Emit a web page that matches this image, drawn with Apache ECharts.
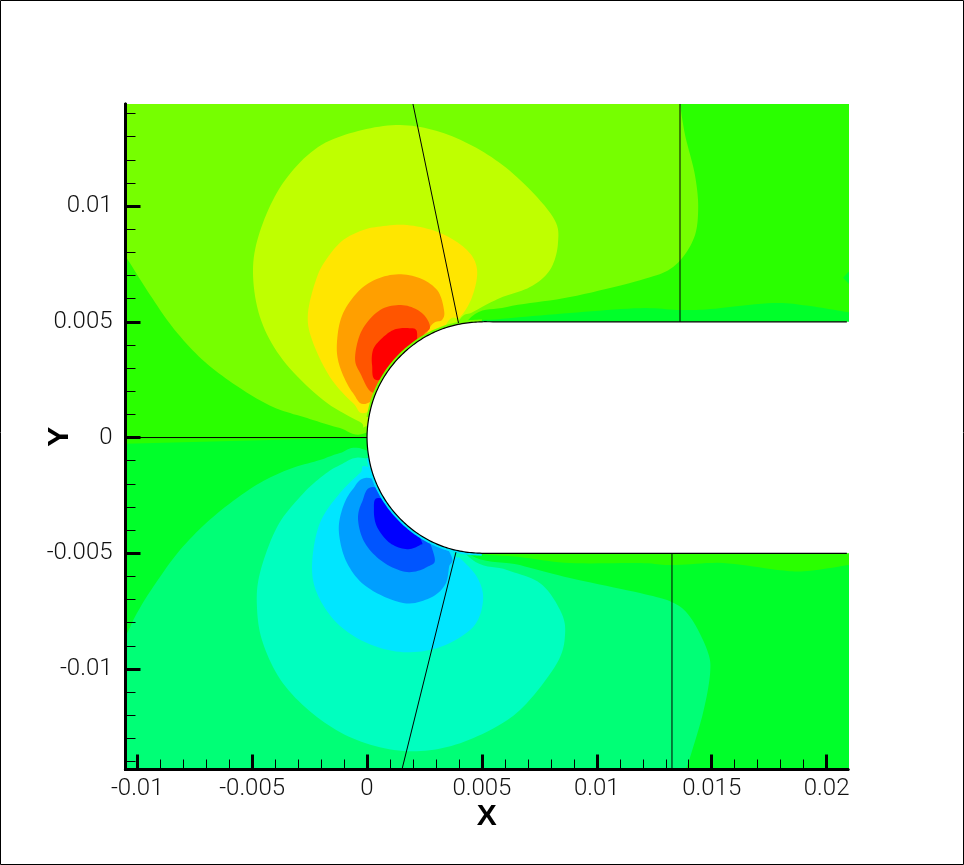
<!DOCTYPE html>
<html><head><meta charset="utf-8">
<style>html,body{margin:0;padding:0;background:#fff}#c{width:964px;height:865px}</style>
<script src="https://cdn.jsdelivr.net/npm/echarts@6/dist/echarts.min.js"></script>
</head><body><div id="c"></div>
<script>
// all contour coordinates are X,Y in thousandths of the axis unit
const xMajor=[-10,-5,0,5,10,15,20];
const xLabels=['-0.01','-0.005','0','0.005','0.01','0.015','0.02'];
const yMajor=[-10,-5,0,5,10];
const yLabels=['-0.01','-0.005','0','0.005','0.01'];
const xMinor=[-9,-8,-7,-6,-4,-3,-2,-1,1,2,3,4,6,7,8,9,11,12,13,14,16,17,18,19];
const yMinor=[-14,-13,-12,-11,-9,-8,-7,-6,-4,-3,-2,-1,1,2,3,4,6,7,8,9,11,12,13,14];

const baseLower=[[-12,-16],[22,-16],[22,0],[-12,0]];
const baseUpper=[[-12,-0.3],[0,0],[22,0],[22,16],[-12,16]];
const lime=[[-11.18,8.75],[-10.49,7.80],[-9.44,6.16],[-8.36,4.64],[-7.05,3.26],[-5.53,2.14],[-4.09,1.32],[-2.61,0.84],[-1.18,0.41],[-0.09,0.19],[2.31,1.62],[4.35,5.03],[6.09,5.64],[8.83,6.07],[11.88,6.80],[13.32,7.37],[14.19,8.53],[14.41,9.83],[14.27,11.34],[13.84,13.07],[13.62,14.41],[13.45,15.44],[-11.18,15.44]];
const upperWallBand=[[4.26,4.95],[5.79,5.12],[8.83,5.38],[11.88,5.59],[13.62,5.51],[14.93,5.55],[17.67,5.81],[19.28,5.68],[20.93,5.42],[21.89,5.34],[21.89,4],[4.26,4]];
const rightBlob=[[21.02,7.24],[20.72,6.9],[21.02,6.59]];
const yellowGreen=[[-0.30,0.67],[-1.91,1.62],[-3.66,3.35],[-4.66,5.21],[-4.96,7.37],[-4.53,9.27],[-3.57,11.12],[-2.13,12.55],[-0.39,13.24],[1.44,13.50],[3.18,13.20],[4.92,12.42],[6.53,11.25],[8.09,9.53],[8.31,8.40],[7.96,7.24],[7.09,6.50],[5.79,6.03],[4.61,5.42],[3.92,4.95],[2.31,2.05],[0.04,0.54]];
const yellow=[[0.04,1.10],[-0.61,1.49],[-1.61,2.61],[-2.39,4.21],[-2.57,5.38],[-2.18,6.93],[-1.70,7.80],[-1.09,8.49],[-0.39,8.88],[0.35,9.09],[1.74,9.18],[3.18,8.84],[4.35,8.10],[4.79,7.24],[4.57,6.07],[4.05,5.21],[3.48,4.95],[2.31,2.48]];
const orange=[[0.04,1.49],[-0.61,1.92],[-1.18,3.05],[-1.31,4.08],[-1.04,5.38],[-0.17,6.50],[1.00,7.02],[2.18,6.93],[3.05,6.37],[3.35,5.51],[3.26,5.08],[2.74,4.77],[1.87,2.92]];
const orangeRed=[[0.35,1.92],[-0.30,2.79],[-0.52,3.48],[-0.22,4.64],[0.57,5.51],[1.57,5.72],[2.39,5.38],[2.74,4.77],[2.39,4.34],[1.65,2.92]];
const red=[[0.44,2.48],[0.22,3.13],[0.26,3.78],[0.57,4.21],[1.13,4.64],[1.78,4.73],[2.18,4.51],[1.87,3.13]];

const lowerWallBand=[[4.26,-4.90],[6.65,-5.16],[8.83,-5.42],[11.88,-5.42],[13.27,-5.51],[15.49,-5.42],[17.97,-5.73],[19.15,-5.77],[20.93,-5.51],[21.89,-5.38],[21.89,-4],[4.26,-4]];
const springGreen=[[-11.18,-9.83],[-10.44,-8.45],[-10.01,-7.58],[-9.31,-6.46],[-8.14,-4.86],[-6.70,-3.43],[-4.96,-2.14],[-3.48,-1.40],[-2.05,-0.97],[-1.18,-0.67],[-0.17,-0.50],[2.31,-1.84],[4.26,-4.90],[6.65,-5.51],[8.83,-6.07],[11.88,-6.72],[13.27,-7.11],[14.06,-7.75],[14.80,-9.18],[14.93,-10.17],[14.62,-11.90],[14.06,-13.80],[13.88,-14.32],[13.62,-15.23],[-11.18,-15.23]];
const aqua=[[-0.09,-0.89],[-1.18,-1.19],[-2.05,-1.75],[-2.92,-2.57],[-3.92,-3.87],[-4.66,-5.85],[-4.79,-7.32],[-4.53,-8.88],[-3.66,-10.61],[-2.18,-12.07],[-0.44,-13.07],[1.57,-13.54],[3.48,-13.37],[5.35,-12.64],[6.79,-11.64],[8.27,-9.74],[8.62,-8.45],[8.40,-7.45],[7.53,-6.29],[6.09,-5.72],[4.35,-5.08],[2.31,-1.84]];
const cyan=[[0.04,-1.27],[-0.30,-1.53],[-1.18,-2.40],[-2.05,-3.69],[-2.39,-5.42],[-2.18,-6.72],[-1.31,-8.01],[0,-8.88],[1.57,-9.27],[3.18,-9.05],[4.61,-8.19],[5.05,-7.02],[4.79,-6.03],[4.05,-5.21],[3.74,-4.95],[2.31,-2.27]];
const skyBlue=[[0.1,-1.75],[-0.65,-2.27],[-1.09,-3.13],[-1.22,-4.13],[-0.87,-5.42],[0,-6.46],[1.57,-7.15],[2.74,-6.93],[3.39,-6.37],[3.57,-5.59],[3.61,-4.99],[2.09,-2.70]];
const midBlue=[[0.26,-2.14],[-0.22,-2.79],[-0.39,-3.56],[-0.09,-4.56],[0.70,-5.38],[1.74,-5.81],[2.61,-5.59],[2.92,-5.08],[1.87,-2.92]];
const deepBlue=[[0.48,-2.61],[0.30,-3.13],[0.44,-3.87],[1.00,-4.56],[1.74,-4.82],[2.31,-4.64],[2.35,-4.43],[1.65,-3.13]];

const upperArc=[[5,5],[4.13,4.92],[3.29,4.70],[2.5,4.33],[1.79,3.83],[1.17,3.21],[0.67,2.5],[0.30,1.71],[0.08,0.87],[0,0]];
const lowerArc=[[0.08,-0.87],[0.30,-1.71],[0.67,-2.5],[1.17,-3.21],[1.79,-3.83],[2.5,-4.33],[3.29,-4.70],[4.13,-4.92],[5,-5]];
const bodyOutline=[[20.88,5],[12,5],[6,5],...upperArc,...lowerArc,[6,-5],[12,-5],[20.88,-5]];
const bodyFill=[[23,5],[12,5],[6,5],...upperArc,...lowerArc,[6,-5],[12,-5],[23,-5]];
const upperFilm=upperArc.slice(0,-1);
const lowerFilm=lowerArc;

const line1=[[2.0,14.41],[3.98,4.95]];
const line2=[[13.62,14.41],[13.62,5]];
const line3=[[-10.49,0],[0,0]];
const line4=[[3.87,-4.95],[1.52,-14.34]];
const line5=[[13.27,-5],[13.27,-14.34]];

const bands=[
 [baseLower,'#00ff2a',0],[baseUpper,'#2aff00',0],[lime,'#76ff00',1],
 [upperWallBand,'#00ff2a',1],[rightBlob,'#00ff2a',0],
 [yellowGreen,'#bfff00',1],[yellow,'#ffe600',1],[orange,'#ff9f00',1],[orangeRed,'#ff5500',1],[red,'#ff0000',1],
 [lowerWallBand,'#2aff00',1],[springGreen,'#00ff76',1],[aqua,'#00ffbf',1],[cyan,'#00e6ff',1],[skyBlue,'#009fff',1],[midBlue,'#0055ff',1],[deepBlue,'#0000ff',1]
];
const scale=p=>[p[0]/1000,p[1]/1000];
// draws a rounded curve through the read points
function curve(pix,closed){
  const n=pix.length,out=[],at=i=>closed?pix[(i+n)%n]:pix[Math.max(0,Math.min(n-1,i))];
  const segs=closed?n:n-1;
  for(let i=0;i<segs;i++){
    const a=at(i-1),b=at(i),c=at(i+1),d=at(i+2);
    for(let k=0;k<10;k++){
      const t=k/10,t2=t*t,t3=t2*t;
      out.push([0,1].map(j=>0.5*(2*b[j]+(c[j]-a[j])*t+(2*a[j]-5*b[j]+4*c[j]-d[j])*t2+(3*b[j]-a[j]-3*c[j]+d[j])*t3)));
    }
  }
  if(!closed) out.push(pix[n-1]);
  return out;
}
const polySeries=(pts,color,round,z)=>({
  type:'custom',coordinateSystem:'cartesian2d',clip:true,silent:true,z,
  data:[scale(pts[0])],
  renderItem:(params,api)=>{
    const pix=pts.map(p=>api.coord(scale(p)));
    const points=round===2?curve(pix,false):round?curve(pix,true):pix;
    return {type:'polygon',shape:{points},style:{fill:color,stroke:null}};
  }
});
const strokeSeries=(pts,color,width,round,z)=>({
  type:'custom',coordinateSystem:'cartesian2d',clip:true,silent:true,z,
  data:[scale(pts[0])],
  renderItem:(params,api)=>{
    const pix=pts.map(p=>api.coord(scale(p)));
    return {type:'polyline',shape:{points:round?curve(pix,false):pix},style:{stroke:color,lineWidth:width,fill:null}};
  }
});
const lineSeries=(pts,color,width,z)=>({
  type:'line',showSymbol:false,clip:true,silent:true,z,
  data:pts.map(scale),lineStyle:{color,width},itemStyle:{color},animation:false
});
const series=[];
bands.forEach((b,i)=>series.push(polySeries(b[0],b[1],b[2],2+i)));
series.push(strokeSeries(upperFilm,'#76ff00',5,true,30));
series.push(strokeSeries(lowerFilm,'#00e6ff',5,true,30));
series.push(polySeries(bodyFill,'#ffffff',2,31));
series.push(strokeSeries(bodyOutline,'#000000',1.2,true,32));
[line1,line2,line3,line4,line5].forEach(l=>series.push(lineSeries(l,'#000000',1,32)));

const font='Roboto';
const xBase={type:'value',min:-0.01051,max:0.02093,position:'bottom',z:50,splitLine:{show:false},
  axisLine:{onZero:false,lineStyle:{color:'#000',width:3}}};
const yBase={type:'value',min:-0.01434,max:0.01441,position:'left',z:50,splitLine:{show:false},
  axisLine:{onZero:false,lineStyle:{color:'#000',width:3}}};
const ticksOn=(vals,len,w)=>({show:true,inside:true,length:len,customValues:vals.map(v=>v/1000),lineStyle:{color:'#000',width:w}});
const labelFn=(maj,lab)=>v=>{const i=maj.findIndex(m=>Math.abs(m/1000-v)<1e-7);return i<0?'':lab[i];};
const tick={fontFamily:font,fontWeight:300,fontSize:24,color:'#111'};
const nameStyle={fontFamily:'"Liberation Sans"',fontWeight:'bold',fontSize:30,color:'#000'};
const option={
 animation:false,backgroundColor:'#fff',
 grid:{left:125.5,top:104,width:722.5,height:665.5,containLabel:false},
 graphic:[{type:'rect',z:100,shape:{x:0.5,y:0.5,width:963,height:864},style:{fill:null,stroke:'#000',lineWidth:1}}],
 xAxis:[
  Object.assign({},xBase,{name:'X',nameLocation:'middle',nameGap:32,nameMoveOverlap:false,
    nameTextStyle:nameStyle,
    axisTick:ticksOn(xMajor,15,3),
    axisLabel:Object.assign({show:true,customValues:xMajor.map(v=>v/1000),formatter:labelFn(xMajor,xLabels),margin:7},tick)}),
  Object.assign({},xBase,{axisTick:ticksOn(xMinor,10,1),axisLabel:{show:false}})
 ],
 yAxis:[
  Object.assign({},yBase,{name:'Y',nameLocation:'middle',nameGap:51,nameMoveOverlap:false,
    nameTextStyle:nameStyle,
    axisTick:ticksOn(yMajor,15,3),
    axisLabel:Object.assign({show:true,customValues:yMajor.map(v=>v/1000),formatter:labelFn(yMajor,yLabels),margin:13},tick)}),
  Object.assign({},yBase,{axisTick:ticksOn(yMinor,10,1),axisLabel:{show:false}})
 ],
 series
};
echarts.init(document.getElementById('c'),null,{renderer:'canvas'}).setOption(option);
</script></body></html>
